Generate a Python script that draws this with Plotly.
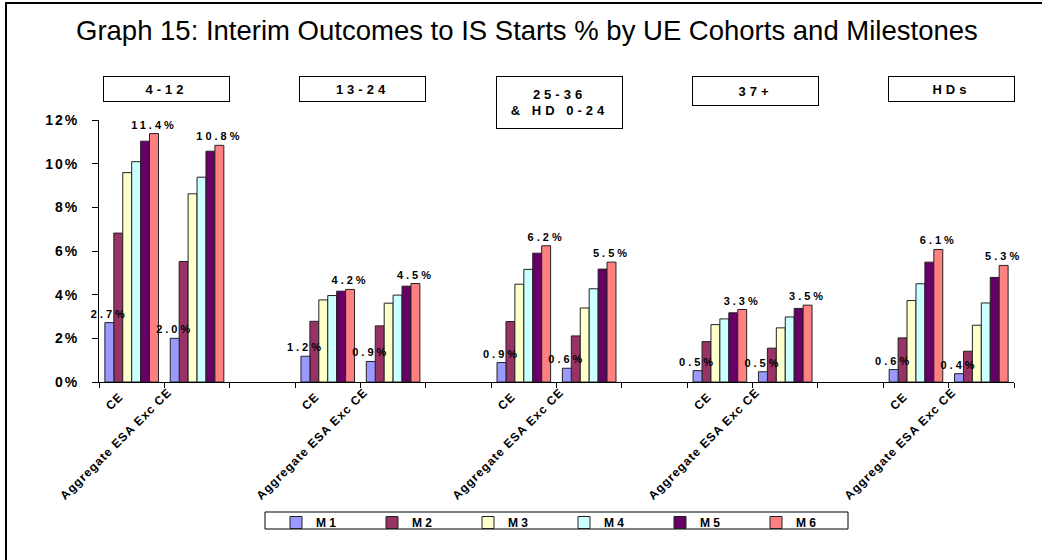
import plotly.graph_objects as go

# ---- data ----
cohorts = ["4-12", "13-24", "25-36<br>& HD 0-24", "37+", "HDs"]
benefits = ["CE", "Aggregate ESA Exc CE"]
milestones = ["M 1", "M 2", "M 3", "M 4", "M 5", "M 6"]
yticks = [0, 2, 4, 6, 8, 10, 12]

# values in %, order: for each cohort -> CE, Aggregate ESA Exc CE
m1 = [2.72, 2.00, 1.18, 0.94, 0.89, 0.63, 0.52, 0.47, 0.57, 0.38]
m2 = [6.82, 5.52, 2.78, 2.57, 2.77, 2.11, 1.85, 1.55, 2.02, 1.41]
m3 = [9.59, 8.62, 3.76, 3.61, 4.48, 3.39, 2.63, 2.48, 3.73, 2.60]
m4 = [10.09, 9.38, 3.96, 3.98, 5.16, 4.27, 2.89, 2.98, 4.50, 3.62]
m5 = [11.03, 10.57, 4.16, 4.39, 5.90, 5.17, 3.17, 3.37, 5.49, 4.79]
m6 = [11.38, 10.84, 4.24, 4.51, 6.24, 5.49, 3.32, 3.52, 6.07, 5.34]
series = [m1, m2, m3, m4, m5, m6]
labelled = [True, False, False, False, False, True]

colors = ["#9999FF", "#993366", "#FFFFCC", "#CCFFFF", "#660066", "#FF8080"]

# category slots: each cohort has 2 categories followed by an empty slot
slots_per_group = len(benefits) + 1
xpos = [g * slots_per_group + b for g in range(len(cohorts)) for b in range(len(benefits))]
n_slots = len(cohorts) * slots_per_group - 1
boundaries = [i - 0.5 for i in range(n_slots + 1)]
pos_by_benefit = [[g * slots_per_group + b for g in range(len(cohorts))] for b in range(len(benefits))]

FONT = "Arial, Liberation Sans, sans-serif"
def spaced(t, px):
    return "<span style='letter-spacing:%dpx'>%s</span>" % (px, t)

group_width = 0.82
bw = group_width / len(series)

fig = go.Figure()
draw_order = [1, 2, 3, 4, 5, 0]  # M1 drawn last so its labels sit on top
for i in draw_order:
    kw = {}
    if labelled[i]:
        kw = dict(texttemplate=spaced("%{y:.1f}%", 3), textposition="outside",
                  constraintext="none", textangle=0, cliponaxis=False,
                  textfont=dict(family=FONT, size=11, color="black", weight="bold"))
    fig.add_trace(go.Bar(
        x=xpos, y=series[i], name=milestones[i],
        marker=dict(color=colors[i], line=dict(color="#222222", width=1)),
        offset=-group_width / 2 + i * bw, width=bw,
        legendrank=i + 1, hoverinfo="skip", **kw))
# empty trace to host the second label axis
fig.add_trace(go.Bar(x=[], y=[], xaxis="x2", showlegend=False, hoverinfo="skip"))

# plot-area pixel geometry helpers (plot: x 99..1014, y 120..382)
L, R, T, B = 99, 1014, 120, 382
def px_x(p):
    return (p - L) / (R - L)
def px_y(p):
    return (B - p) / (B - T)

annotations = [dict(
    text="Graph 15: Interim Outcomes to IS Starts % by UE Cohorts and Milestones",
    xref="paper", yref="paper", x=px_x(527), y=px_y(30), xanchor="center", yanchor="middle",
    showarrow=False, font=dict(family=FONT, size=27.5, color="black"))]

box_heights = [22, 22, 49, 26, 22]
for g, name in enumerate(cohorts):
    txt = "<br>".join(spaced(part, 4) for part in name.split("<br>"))
    annotations.append(dict(
        text="<b>" + txt + "</b>", xref="x", yref="paper",
        x=g * slots_per_group + (len(benefits) - 1) / 2, xshift=2.5,
        y=px_y(76), xanchor="center", yanchor="top", showarrow=False,
        width=123, height=box_heights[g], bordercolor="black", borderwidth=1,
        borderpad=1, bgcolor="white",
        font=dict(family=FONT, size=13, color="black")))

shapes = [
    # outer chart border
    dict(type="rect", xref="paper", yref="paper", x0=px_x(6), x1=1.2, y0=-1.2, y1=px_y(3),
         line=dict(color="black", width=2), layer="below"),
    # legend border
    dict(type="rect", xref="paper", yref="paper", x0=px_x(265), x1=px_x(848),
         y0=px_y(529), y1=px_y(512), line=dict(color="black", width=1)),
]

xfont = dict(family=FONT, size=12, color="black", weight="bold")
fig.update_layout(
    width=1042, height=560,
    margin=dict(l=L, r=1042 - R, t=T, b=560 - B, autoexpand=False),
    paper_bgcolor="white", plot_bgcolor="white",
    barmode="overlay",
    showlegend=True,
    legend=dict(orientation="h", x=px_x(276), y=px_y(508), xanchor="left", yanchor="top",
                entrywidth=51, entrywidthmode="pixels", traceorder="normal",
                font=dict(family=FONT, size=12, color="black", weight="bold"),
                bgcolor="rgba(0,0,0,0)", borderwidth=0),
    annotations=annotations,
    shapes=shapes,
    xaxis=dict(range=[-0.5, n_slots - 0.5], tickmode="array", tickvals=pos_by_benefit[0],
               ticktext=[spaced(benefits[0], 1)] * len(cohorts),
               tickangle=-45, ticks="", showline=True, linecolor="black", linewidth=1,
               showgrid=False, zeroline=False, automargin=False,
               ticklabelshift=-12, ticklabelstandoff=2, tickfont=xfont,
               minor=dict(tickmode="array", tickvals=boundaries, ticks="outside", ticklen=5,
                          tickcolor="black", showgrid=False)),
    xaxis2=dict(range=[-0.5, n_slots - 0.5], overlaying="x", anchor="y", side="bottom",
                tickmode="array", tickvals=pos_by_benefit[1],
                ticktext=[spaced(benefits[1], 1)] * len(cohorts),
                tickangle=-45, ticks="", showline=False, showgrid=False, zeroline=False,
                automargin=False, ticklabelshift=-29, ticklabelstandoff=0, tickfont=xfont),
    yaxis=dict(range=[0, 12], tickmode="array", tickvals=yticks,
               ticktext=[spaced("%d%%" % v, 2) for v in yticks],
               ticks="outside", ticklen=6,
               tickcolor="black", showline=True, linecolor="black", linewidth=1,
               showgrid=False, zeroline=False, automargin=False, ticklabelstandoff=10,
               tickfont=dict(family=FONT, size=14, color="black", weight="bold")),
)

fig.write_html("out.html", config={"displayModeBar": False},
               post_script="document.body.style.margin='0';document.body.style.overflow='hidden';")
